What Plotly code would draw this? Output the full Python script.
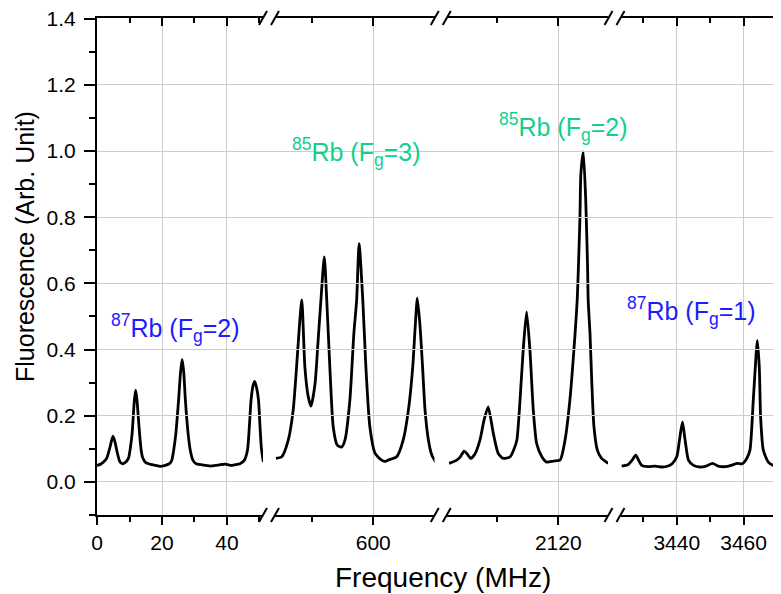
import plotly.graph_objects as go

# ---------------- data ----------------
s1_x = [0.0, 1.0, 2.0, 3.0, 4.0, 4.9, 5.5, 6.2, 7.0, 7.8, 8.6, 9.7, 10.3, 10.8, 11.5,
        11.9, 12.3, 13.1, 13.6, 14.1, 15.0, 16.5, 18.0, 19.5, 21.0, 22.3, 23.0, 23.6, 24.3, 25.1,
        25.7, 26.2, 26.7, 27.2, 28.0, 28.7, 29.5, 30.5, 32.0, 33.5, 35.0, 36.5, 38.0, 39.5, 41.0,
        42.5, 44.0, 45.3, 46.3, 46.9, 47.4, 48.0, 48.5, 49.1, 49.7, 50.2, 50.6, 51.2]
s1_y = [0.050, 0.053, 0.060, 0.072, 0.105, 0.138, 0.122, 0.090, 0.062, 0.055, 0.058, 0.072, 0.105, 0.146, 0.247,
        0.277, 0.247, 0.146, 0.095, 0.072, 0.058, 0.053, 0.050, 0.047, 0.050, 0.055, 0.065, 0.096, 0.150, 0.247,
        0.330, 0.370, 0.330, 0.247, 0.150, 0.096, 0.066, 0.055, 0.052, 0.050, 0.048, 0.050, 0.052, 0.054, 0.050,
        0.052, 0.055, 0.065, 0.096, 0.170, 0.247, 0.290, 0.304, 0.285, 0.247, 0.160, 0.100, 0.060]

s2_x = [568.4, 570.3, 572.4, 574.0, 575.1, 576.0, 576.8, 577.8, 578.9, 579.8, 581.1, 582.1, 583.0, 584.1,
        584.9, 585.9, 587.0, 588.3, 589.7, 590.8, 592.4, 593.7, 594.6, 595.4, 596.6, 597.6, 598.9, 600.6,
        602.7, 604.0, 605.4, 607.6, 609.7, 611.4, 612.8, 613.6, 614.3, 615.2, 616.0, 616.8, 617.9, 619.0, 620.3]
s2_y = [0.071, 0.076, 0.126, 0.217, 0.347, 0.468, 0.550, 0.347, 0.257, 0.229, 0.297, 0.428, 0.549, 0.680,
        0.549, 0.347, 0.166, 0.111, 0.105, 0.126, 0.247, 0.449, 0.549, 0.720, 0.549, 0.347, 0.166, 0.086,
        0.066, 0.062, 0.068, 0.076, 0.126, 0.217, 0.347, 0.468, 0.555, 0.468, 0.347, 0.217, 0.126, 0.081, 0.059]

s3_x = [2084.2, 2086.7, 2087.8, 2089.1, 2090.1, 2091.3, 2092.7, 2094.3, 2095.6, 2097.0, 2098.7, 2100.3,
        2102.0, 2104.2, 2105.3, 2106.4, 2107.4, 2108.5, 2109.6, 2110.7, 2111.8, 2112.9, 2114.6, 2116.2,
        2118.4, 2120.6, 2122.2, 2123.8, 2125.5, 2126.2, 2126.6, 2127.1, 2127.4, 2128.2, 2129.0, 2129.6,
        2129.8, 2130.4, 2131.0, 2131.7, 2132.8, 2134.2, 2136.4]
s3_y = [0.056, 0.066, 0.075, 0.093, 0.085, 0.071, 0.085, 0.126, 0.185, 0.227, 0.146, 0.086,
        0.071, 0.076, 0.095, 0.126, 0.240, 0.400, 0.514, 0.398, 0.217, 0.116, 0.076, 0.060,
        0.063, 0.066, 0.126, 0.247, 0.448, 0.549, 0.650, 0.800, 0.930, 0.997, 0.851, 0.650,
        0.549, 0.448, 0.297, 0.166, 0.096, 0.071, 0.056]

s4_x = [3423.5, 3425.4, 3426.6, 3427.7, 3428.6, 3429.5, 3431.4, 3433.5, 3435.6, 3437.4, 3438.6, 3440.0,
        3440.8, 3441.7, 3442.5, 3443.5, 3445.0, 3447.0, 3448.8, 3450.7, 3452.4, 3454.5, 3456.3, 3458.0,
        3459.6, 3460.9, 3461.9, 3462.9, 3463.7, 3464.1, 3464.7, 3465.1, 3465.9, 3467.4, 3468.9, 3471.2]
s4_y = [0.048, 0.052, 0.065, 0.081, 0.065, 0.050, 0.046, 0.048, 0.045, 0.048, 0.055, 0.076,
        0.126, 0.181, 0.126, 0.066, 0.050, 0.045, 0.048, 0.056, 0.048, 0.046, 0.050, 0.056,
        0.055, 0.070, 0.096, 0.247, 0.378, 0.428, 0.347, 0.196, 0.096, 0.060, 0.050, 0.047]

labels = ["<sup>87</sup>Rb (F<sub>g</sub>=2)", "<sup>85</sup>Rb (F<sub>g</sub>=3)",
          "<sup>85</sup>Rb (F<sub>g</sub>=2)", "<sup>87</sup>Rb (F<sub>g</sub>=1)"]
x_title = "Frequency (MHz)"
y_title = "Fluorescence (Arb. Unit)"
y_range = [-0.1, 1.402]

# ---------------- layout geometry ----------------
# the page body adds an 8px offset, so margins are reduced on the left/top
W, H = 781, 594
ML, MR, MT, MB = 89, 8, 10, 87
PW, PH = W - ML - MR, H - MT - MB
OFF = 8


def fx(px):
    return (px - OFF - ML) / PW


def fy(py):
    return (H - MB - (py - OFF)) / PH


seg_px = [(97, 263), (275, 434.5), (447, 608), (621, 781)]
seg_range = [[0, 51.08], [568.1, 619.87], [2083.5, 2136.3], [3423.3, 3471.2]]
seg_dtick = [20, 40, 40, 20]
seg_minor = [10, 20, 20, 10]
segs = [(s1_x, s1_y), (s2_x, s2_y), (s3_x, s3_y), (s4_x, s4_y)]

FONT = "Arial, Liberation Sans, sans-serif"
GRID = "#cccccc"
GREEN = "#14cf8c"
BLUE = "#1c1cff"

fig = go.Figure()
layout = dict(
    width=W, height=H,
    margin=dict(l=ML, r=MR, t=MT, b=MB, pad=0, autoexpand=False),
    paper_bgcolor="white", plot_bgcolor="rgba(0,0,0,0)",
    showlegend=False,
    font=dict(family=FONT, size=21, color="black"),
)

for i, (xs, ys) in enumerate(segs):
    n = i + 1
    xa = "x" if n == 1 else f"x{n}"
    fig.add_trace(go.Scatter(x=xs, y=ys, mode="lines", xaxis=xa, yaxis="y",
                             line=dict(color="black", width=2.8, shape="spline", smoothing=0.6),
                             hoverinfo="skip"))
    dom = [fx(seg_px[i][0]), fx(seg_px[i][1])]
    layout["xaxis" if n == 1 else f"xaxis{n}"] = dict(
        domain=dom, range=seg_range[i], anchor="y", automargin=False,
        tick0=0, dtick=seg_dtick[i],
        showline=True, linecolor="black", linewidth=2,
        ticks="outside", ticklen=8, tickwidth=2, tickcolor="black",
        minor=dict(dtick=seg_minor[i], ticks="outside", ticklen=5, tickwidth=1.6,
                   tickcolor="black", showgrid=False),
        showgrid=True, gridcolor=GRID, gridwidth=1, zeroline=False,
        tickfont=dict(family=FONT, size=21), ticklabelstandoff=0,
        ticklabeloverflow="allow",
    )
    # top mirror axis (ticks pointing inward)
    m = n + 4
    fig.add_trace(go.Scatter(x=xs, y=ys, mode="lines", xaxis=f"x{m}", yaxis="y",
                             opacity=0, line=dict(width=0), hoverinfo="skip"))
    layout[f"xaxis{m}"] = dict(
        domain=dom, range=seg_range[i], overlaying=xa, side="top", anchor="y", automargin=False,
        tick0=0, dtick=seg_dtick[i],
        showline=True, linecolor="black", linewidth=2,
        ticks="inside", ticklen=8, tickwidth=2, tickcolor="black",
        minor=dict(dtick=seg_minor[i], ticks="inside", ticklen=5, tickwidth=1.6,
                   tickcolor="black", showgrid=False),
        showgrid=False, zeroline=False, showticklabels=False,
    )

# full-width helper axis so the horizontal grid runs through the breaks
fig.add_trace(go.Scatter(x=s1_x, y=s1_y, mode="lines", xaxis="x9", yaxis="y",
                         opacity=0, line=dict(width=0), hoverinfo="skip"))
layout["xaxis9"] = dict(domain=[0, 1], range=[0, 1], anchor="y", visible=False, automargin=False)

# right axis with inward ticks
fig.add_trace(go.Scatter(x=s4_x, y=s4_y, mode="lines", xaxis="x4", yaxis="y2",
                         opacity=0, line=dict(width=0), hoverinfo="skip"))

layout["yaxis"] = dict(
    domain=[0, 1], range=y_range, anchor="x", tick0=0, dtick=0.2, tickformat=".1f",
    automargin=False,
    showline=True, linecolor="black", linewidth=2,
    ticks="outside", ticklen=11, tickwidth=2, tickcolor="black",
    minor=dict(dtick=0.1, ticks="outside", ticklen=6, tickwidth=1.6, tickcolor="black", showgrid=False),
    showgrid=True, gridcolor=GRID, gridwidth=1, zeroline=False,
    tickfont=dict(family=FONT, size=21), ticklabelstandoff=4,
    ticklabeloverflow="allow",
)
layout["yaxis2"] = dict(
    range=y_range, overlaying="y", side="right", anchor="x4", tick0=0, dtick=0.2,
    automargin=False,
    showline=False, ticks="inside", ticklen=6, tickwidth=2, tickcolor="black",
    showgrid=False, zeroline=False, showticklabels=False,
)

# axis break marks "//" on bottom and top
shapes = []
for c in [269, 440.75, 614.5]:
    for yb in [0, 1]:
        for dx0, dx1 in [(-10, -2), (2, 10)]:
            shapes.append(dict(type="line", xref="paper", yref="paper",
                               x0=fx(c + dx0), x1=fx(c + dx1),
                               y0=yb - 7 / PH, y1=yb + 7 / PH,
                               line=dict(color="black", width=2)))
layout["shapes"] = shapes

ann_pos = [(175, 328, BLUE), (356, 152, GREEN), (563, 127, GREEN), (691, 311, BLUE)]
anns = []
for txt, (px, py, col) in zip(labels, ann_pos):
    anns.append(dict(text=txt, xref="paper", yref="paper", x=fx(px), y=fy(py),
                     xanchor="center", yanchor="middle", showarrow=False,
                     font=dict(family=FONT, size=25, color=col)))
anns.append(dict(text=x_title, xref="paper", yref="paper", x=fx(443), y=fy(577),
                 xanchor="center", yanchor="middle", showarrow=False,
                 font=dict(family=FONT, size=28, color="black")))
anns.append(dict(text=y_title, xref="paper", yref="paper", x=fx(25), y=fy(247),
                 xanchor="center", yanchor="middle", showarrow=False, textangle=-90,
                 font=dict(family=FONT, size=25, color="black")))
layout["annotations"] = anns

fig.update_layout(**layout)
fig.write_html("out.html")
